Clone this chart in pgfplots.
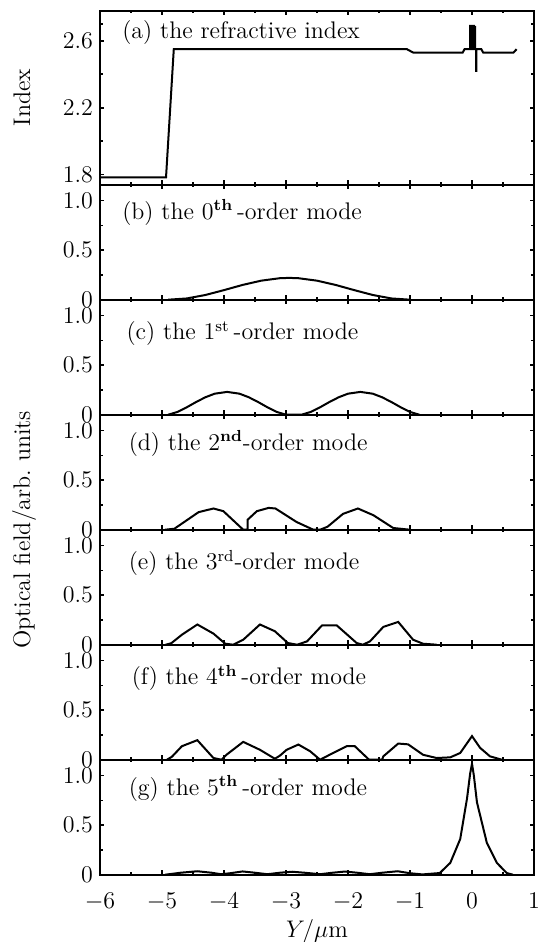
\documentclass[border=0pt]{standalone}
\usepackage{pgfplots}
\pgfplotsset{compat=1.18}

\pgfplotsset{
  panel/.style={
    scale only axis, width=217pt,
    xmin=-6, xmax=1,
    xtick={-6,...,1}, minor x tick num=1,
    tick align=inside,
    major tick length=2.2pt, minor tick length=1.3pt,
    every tick/.style={black, line width=0.8pt},
    axis line style={line width=0.9pt},
    tick label style={font=\large},
    label style={font=\large},
    ylabel style={text depth=2.5pt},
    ylabel shift=7pt,
  },
  modeaxis/.style={
    panel, height=57.5pt,
    ymin=0, ymax=1.16,
    ytick={0,0.5,1}, yticklabels={0,0.5,1.0}, minor y tick num=1,
  },
  curve/.style={black, line width=1pt, no marks},
}
\tikzset{lab/.style={anchor=base west, font=\large}}

\begin{document}
\begin{tikzpicture}

% (a) refractive index
\begin{axis}[panel, name=a, height=87pt,
  ymin=1.74, ymax=2.78,
  ytick={1.8,2.2,2.6}, yticklabels={1.8,2.2,2.6},
  minor ytick={2.0,2.4,2.7},
  xticklabels={},
  ylabel={Index}]
\addplot[curve] coordinates {
  (-6,1.784) (-4.935,1.784) (-4.81,2.55) (-1.05,2.55) (-0.95,2.53)
  (-0.15,2.53) (-0.12,2.55) (-0.03,2.55)
  (-0.03,2.69) (-0.01,2.69) (-0.01,2.55) (0.01,2.55) (0.01,2.69)
  (0.03,2.69) (0.03,2.55) (0.05,2.55) (0.05,2.69) (0.05,2.55)
  (0.065,2.55) (0.065,2.42) (0.07,2.42) (0.07,2.55)
  (0.15,2.55) (0.18,2.53) (0.67,2.53) (0.72,2.55)
};
\node[lab] at (rel axis cs:0.035,0.84) {(a) the refractive index};
\end{axis}

% (b) 0th-order mode
\begin{axis}[modeaxis, name=b, at={(a.south west)}, anchor=north west, xticklabels={}]
\addplot[curve] coordinates {
  (-4.9,0) (-4.6,0.0126) (-4.3,0.0475) (-4.0,0.0967) (-3.7,0.149)
  (-3.4,0.192) (-3.1,0.2168) (-2.95,0.22) (-2.8,0.2168) (-2.5,0.192)
  (-2.2,0.149) (-1.9,0.0967) (-1.6,0.0475) (-1.3,0.0126) (-1.0,0)
};
\node[lab] at (rel axis cs:0.035,0.70) {(b) the 0$^{\mathbf{th}}$\,-order mode};
\end{axis}

% (c) 1st-order mode
\begin{axis}[modeaxis, name=c, at={(b.south west)}, anchor=north west, xticklabels={}]
\addplot[curve] coordinates {
  (-4.9,0) (-4.75,0.028) (-4.6,0.075) (-4.45,0.128) (-4.3,0.176)
  (-4.15,0.212) (-3.95,0.23) (-3.75,0.212) (-3.6,0.176) (-3.45,0.128)
  (-3.3,0.075) (-3.15,0.028) (-3.0,0) (-2.75,0)
  (-2.6,0.028) (-2.45,0.075) (-2.3,0.128) (-2.15,0.176) (-2.0,0.212)
  (-1.8,0.23) (-1.6,0.212) (-1.45,0.176) (-1.3,0.128) (-1.15,0.075)
  (-1.0,0.028) (-0.85,0)
};
\node[lab] at (rel axis cs:0.045,0.65) {(c) the 1$^{\mathrm{st}}$\,-order mode};
\end{axis}

% (d) 2nd-order mode
\begin{axis}[modeaxis, name=d, at={(c.south west)}, anchor=north west, xticklabels={},
  ylabel={Optical field/arb.\ units},
  ylabel style={at={(ticklabel cs:0)}}]
\addplot[curve] coordinates {
  (-4.95,0) (-4.8,0.01) (-4.41,0.177) (-4.17,0.214) (-4.01,0.187)
  (-3.69,0) (-3.62,0) (-3.62,0.10) (-3.47,0.187) (-3.28,0.22)
  (-3.17,0.214) (-2.83,0.078) (-2.56,0) (-2.45,0) (-2.33,0.03)
  (-2.08,0.16) (-1.84,0.214) (-1.59,0.146) (-1.27,0.017) (-1.0,0)
};
\node[lab] at (rel axis cs:0.05,0.69) {(d) the 2$^{\mathbf{nd}}$-order mode};
\end{axis}

% (e) 3rd-order mode
\begin{axis}[modeaxis, name=e, at={(d.south west)}, anchor=north west, xticklabels={}]
\addplot[curve] coordinates {
  (-4.94,0) (-4.85,0.015) (-4.68,0.10) (-4.43,0.204) (-4.17,0.112)
  (-3.98,0.01) (-3.85,0) (-3.69,0.05) (-3.42,0.204) (-3.18,0.136)
  (-2.97,0.017) (-2.82,0) (-2.66,0.034) (-2.42,0.194) (-2.18,0.194)
  (-1.86,0.017) (-1.76,0) (-1.645,0.034) (-1.43,0.18) (-1.19,0.23)
  (-0.95,0.05) (-0.79,0.01) (-0.57,0)
};
\node[lab] at (rel axis cs:0.05,0.65) {(e) the 3$^{\mathrm{rd}}$-order mode};
\end{axis}

% (f) 4th-order mode
\begin{axis}[modeaxis, name=f, at={(e.south west)}, anchor=north west, xticklabels={}]
\addplot[curve] coordinates {
  (-4.92,0) (-4.84,0.03) (-4.68,0.136) (-4.43,0.197) (-4.17,0.017)
  (-4.04,0) (-3.96,0.05) (-3.69,0.18) (-3.42,0.10) (-3.18,0.01)
  (-3.1,0.04) (-2.99,0.10) (-2.80,0.153) (-2.61,0.085) (-2.45,0)
  (-2.24,0.068) (-2.02,0.136) (-1.89,0.136) (-1.66,0) (-1.45,0)
  (-1.43,0.034) (-1.19,0.163) (-1.03,0.155) (-0.79,0.05) (-0.57,0.017)
  (-0.35,0.024) (-0.19,0.068) (0.0,0.238) (0.13,0.12) (0.29,0.034)
  (0.48,0)
};
\node[lab] at (rel axis cs:0.057,0.65) {(f) the 4$^{\mathbf{th}}$\,-order mode};
\end{axis}

% (g) 5th-order mode
\begin{axis}[modeaxis, name=g, at={(f.south west)}, anchor=north west,
  xticklabel style={yshift=-5.5pt},
  xlabel={$Y/\mu$m}, xlabel style={yshift=2pt}]
\addplot[curve] coordinates {
  (-4.95,0) (-4.7,0.02) (-4.43,0.035) (-4.2,0.02) (-4.05,0.005)
  (-3.9,0.015) (-3.7,0.033) (-3.5,0.02) (-3.3,0.005) (-3.1,0.02)
  (-2.9,0.03) (-2.7,0.02) (-2.45,0.005) (-2.25,0.02) (-2.05,0.032)
  (-1.85,0.02) (-1.65,0.005) (-1.45,0.02) (-1.2,0.035) (-1.0,0.015)
  (-0.8,0.003) (-0.52,0.017) (-0.35,0.12) (-0.19,0.36) (-0.08,0.77)
  (-0.03,1.02) (0.0,1.12) (0.03,1.0) (0.08,0.73) (0.24,0.32) (0.40,0.12)
  (0.56,0.017) (0.66,0)
};
\node[lab] at (rel axis cs:0.05,0.69) {(g) the 5$^{\mathbf{th}}$\,-order mode};
\end{axis}

\pgfresetboundingbox
\path[use as bounding box] (a.north west) ++(-50pt,5.35pt) rectangle ++(270pt,-471pt);
\end{tikzpicture}
\end{document}
